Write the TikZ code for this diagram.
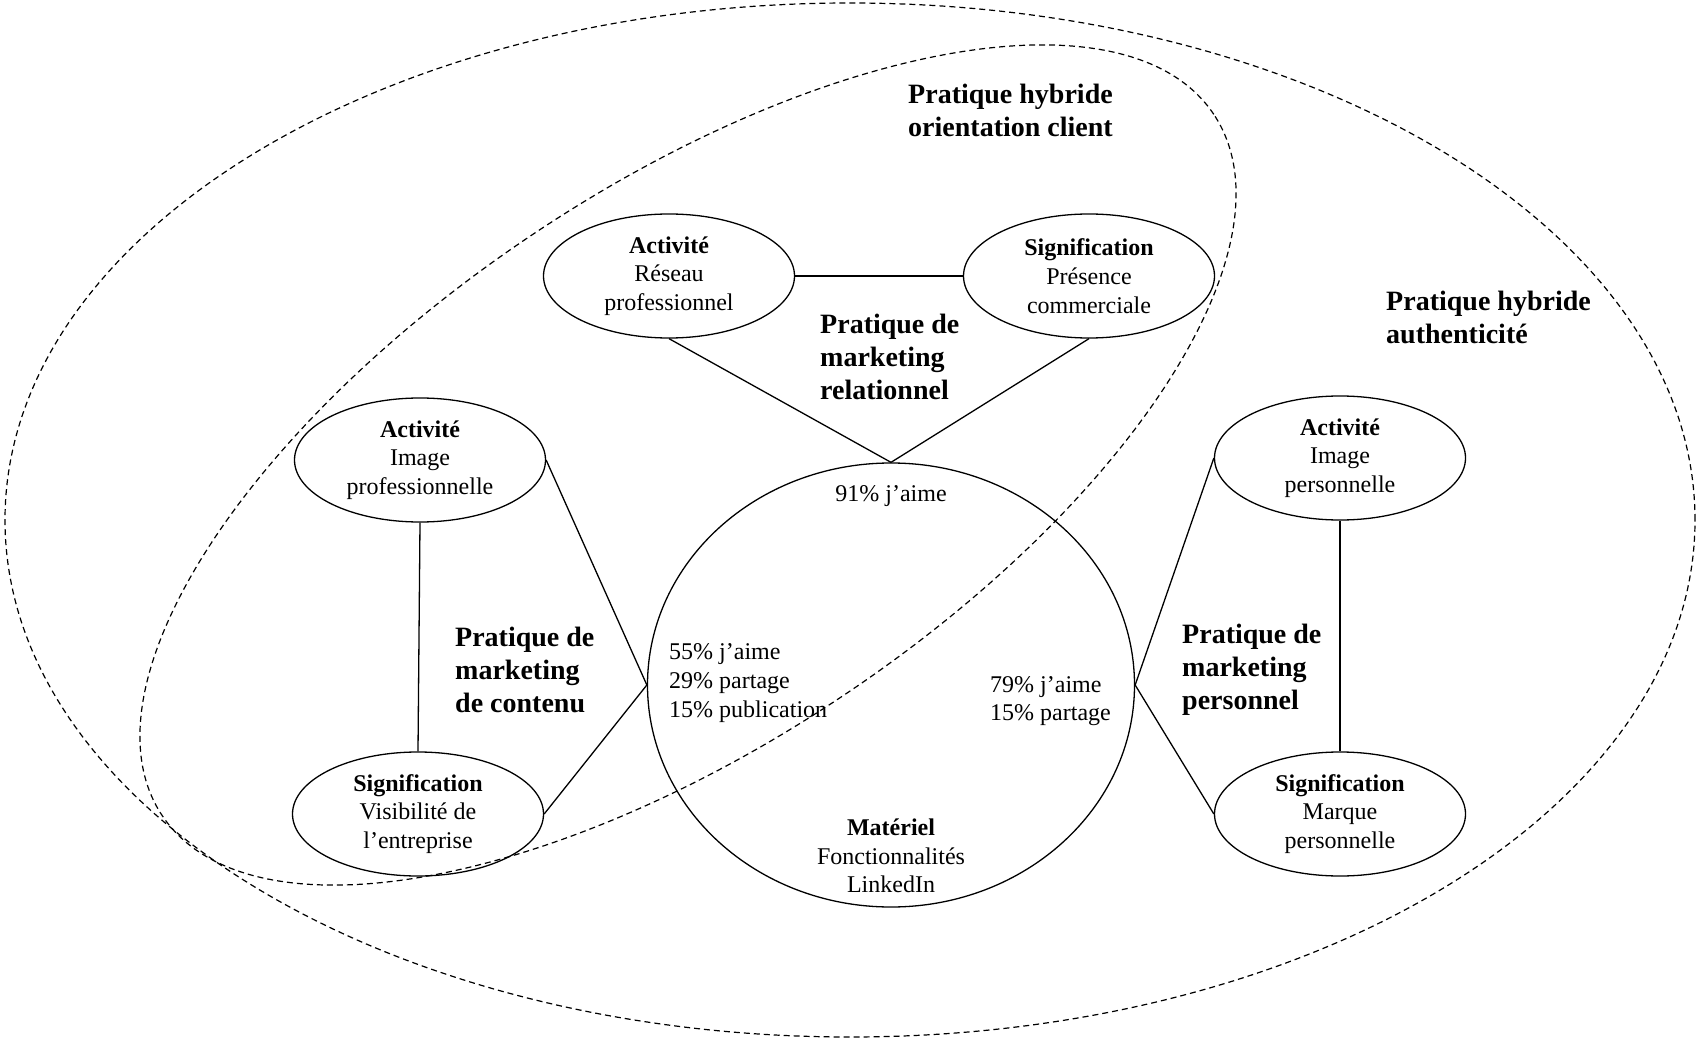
\documentclass[tikz,border=0pt]{standalone}
\usepackage{fontspec}
\setmainfont{Liberation Serif}
\usepackage{tikz}
\usetikzlibrary{shapes.geometric, positioning}

\begin{document}
\begin{tikzpicture}[
    x=1pt, y=1pt,
    pole/.style={
        ellipse, draw, line width=1.3pt,
        minimum width=251pt, minimum height=124pt, inner sep=0pt,
        align=center, font=\fontsize{24}{28.7}\selectfont
    },
    stat/.style={inner sep=0pt, align=#1, font=\fontsize{24}{28.7}\selectfont},
    practice/.style={inner sep=0pt, align=left, font=\bfseries\fontsize{28}{33}\selectfont},
    link/.style={line width=1.3pt},
    hybrid/.style={dash pattern=on 6pt off 4pt, line width=1.2pt}
]
\useasboundingbox (0,0) rectangle (1697,-1040);

\draw[hybrid] (850,-520) ellipse [x radius=845, y radius=517];
\draw[hybrid, rotate around={33.7:(688,-465)}] (688,-465) ellipse [x radius=632, y radius=278];

\node[pole] (reseau) at (669,-276) {\textbf{Activité}\\Réseau\\professionnel};
\node[pole] (presence) at (1089,-276) {\textbf{Signification}\\Présence\\commerciale};
\node[pole] (imgpro) at (420,-460) {\textbf{Activité}\\Image\\professionnelle};
\node[pole] (visib) at (418,-814) {\textbf{Signification}\\Visibilité de\\l’entreprise};
\node[pole] (imgperso) at (1340,-458) {\textbf{Activité}\\Image\\personnelle};
\node[pole] (marque) at (1340,-814) {\textbf{Signification}\\Marque\\personnelle};

\node[ellipse, draw, line width=1.3pt, minimum width=487pt, minimum height=444pt, inner sep=0pt] (mat) at (891,-685) {};

\node[stat=center] (rel) at (891,-496) {91\% j’aime};
\node[stat=left, anchor=west] (cont) at (669,-683) {55\% j’aime\\29\% partage\\15\% publication};
\node[stat=left, anchor=west] (pers) at (990,-701) {79\% j’aime\\15\% partage};
\node[stat=center] (feat) at (891,-856) {\textbf{Matériel}\\Fonctionnalités\\LinkedIn};

\node[practice, anchor=west] (prel) at (820,-357) {Pratique de\\marketing\\relationnel};
\node[practice, anchor=west] (pcont) at (455,-670) {Pratique de\\marketing\\de contenu};
\node[practice, anchor=west] (ppers) at (1182,-670) {Pratique de\\marketing\\personnel};
\node[practice, anchor=west] (hclient) at (908,-110) {Pratique hybride\\orientation client};
\node[practice, anchor=west] (hauth) at (1386,-317) {Pratique hybride\\authenticité};

\draw[link] (reseau) -- (presence);
\draw[link] (reseau.south) -- (mat.north);
\draw[link] (presence.south) -- (mat.north);
\draw[link] (imgpro.south) -- (visib.north);
\draw[link] (imgpro.east) -- (mat.west);
\draw[link] (visib.east) -- (mat.west);
\draw[link] (imgperso.south) -- (marque.north);
\draw[link] (imgperso.west) -- (mat.east);
\draw[link] (marque.west) -- (mat.east);

\end{tikzpicture}
\end{document}
